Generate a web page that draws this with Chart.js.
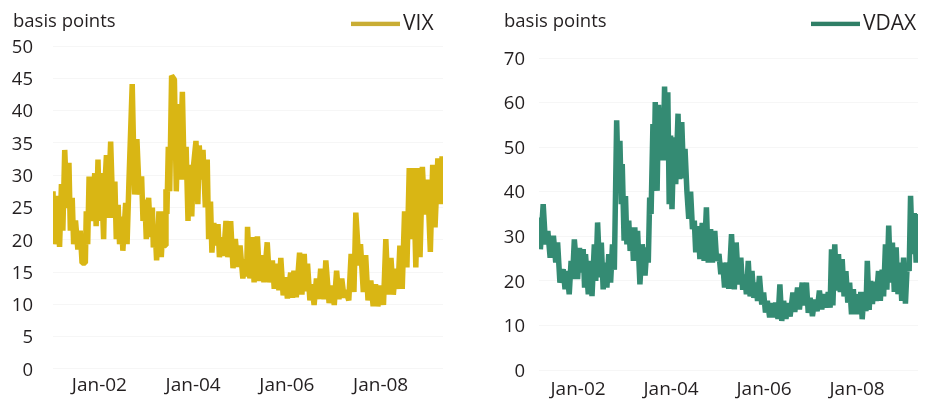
<!DOCTYPE html>
<html>
<head>
<meta charset="utf-8">
<script src="https://cdn.jsdelivr.net/npm/chart.js@4.4.1/dist/chart.umd.min.js"></script>
<style>
  body { margin: 0; background: #fff; }
  .panel { position: absolute; top: 0; height: 400px; }
</style>
</head>
<body>
<div class="panel" style="left:0;width:470px"><canvas id="vixChart" width="470" height="400"></canvas></div>
<div class="panel" style="left:470px;width:455px"><canvas id="vdaxChart" width="455" height="400"></canvas></div>
<script>
// x values are decimal years
const vixDates = [
  2001.01, 2001.04, 2001.09, 2001.15, 2001.19, 2001.22, 2001.26, 2001.31, 2001.35, 2001.38,
  2001.42, 2001.45, 2001.49, 2001.54, 2001.59, 2001.63, 2001.70, 2001.72, 2001.75, 2001.78,
  2001.85, 2001.90, 2001.93, 2001.97, 2002.00, 2002.04, 2002.09, 2002.11, 2002.15, 2002.18,
  2002.24, 2002.29, 2002.33, 2002.36, 2002.40, 2002.43, 2002.47, 2002.50, 2002.56, 2002.59,
  2002.63, 2002.70, 2002.75, 2002.80, 2002.85, 2002.90, 2002.93, 2002.97, 2003.00, 2003.05,
  2003.09, 2003.13, 2003.15, 2003.19, 2003.22, 2003.27, 2003.32, 2003.37, 2003.40, 2003.42,
  2003.44, 2003.47, 2003.50, 2003.54, 2003.60, 2003.64, 2003.69, 2003.71, 2003.77, 2003.81,
  2003.85, 2003.89, 2003.92, 2003.97, 2004.00, 2004.06, 2004.10, 2004.13, 2004.17, 2004.21,
  2004.26, 2004.30, 2004.33, 2004.37, 2004.40, 2004.44, 2004.48, 2004.53, 2004.56, 2004.60,
  2004.65, 2004.70, 2004.74, 2004.80, 2004.85, 2004.90, 2004.95, 2005.00, 2005.06, 2005.11,
  2005.14, 2005.16, 2005.21, 2005.26, 2005.30, 2005.37, 2005.42, 2005.48, 2005.51, 2005.58,
  2005.63, 2005.69, 2005.73, 2005.76, 2005.83, 2005.87, 2005.92, 2005.97, 2006.01, 2006.08,
  2006.12, 2006.15, 2006.20, 2006.27, 2006.32, 2006.37, 2006.40, 2006.44, 2006.49, 2006.53,
  2006.58, 2006.63, 2006.67, 2006.72, 2006.79, 2006.83, 2006.90, 2006.96, 2007.01, 2007.06,
  2007.11, 2007.17, 2007.22, 2007.25, 2007.32, 2007.37, 2007.43, 2007.47, 2007.54, 2007.57,
  2007.63, 2007.68, 2007.73, 2007.79, 2007.84, 2007.89, 2007.94, 2008.00, 2008.06, 2008.11,
  2008.16, 2008.22, 2008.27, 2008.32, 2008.37, 2008.41, 2008.46, 2008.51, 2008.56, 2008.61,
  2008.64, 2008.70, 2008.75, 2008.80, 2008.84, 2008.89, 2008.94, 2009.00, 2009.06, 2009.11,
  2009.16, 2009.22, 2009.27, 2009.31, 2009.33
];
const vixValues = [
  27.5, 19.3, 26.8, 18.9, 28.6, 21.4, 33.9, 24.9, 31.9, 21.4,
  26.5, 19.3, 23.0, 18.5, 21.4, 16.4, 16.4, 24.4, 19.3, 29.8,
  22.9, 30.3, 22.1, 32.4, 22.9, 30.3, 20.1, 27.5, 33.1, 23.4,
  35.2, 23.4, 29.0, 20.1, 25.4, 19.3, 23.6, 18.3, 25.7, 19.3,
  29.0, 44.1, 27.0, 35.6, 27.0, 29.8, 22.9, 26.2, 20.1, 26.5,
  20.4, 25.0, 18.8, 21.5, 16.8, 24.4, 17.3, 24.4, 19.1, 27.8,
  24.0, 34.4, 27.5, 45.4, 44.8, 27.5, 41.0, 29.3, 42.9, 29.3,
  34.4, 22.9, 31.6, 23.6, 30.9, 35.3, 25.5, 34.6, 29.3, 33.9,
  25.0, 32.4, 20.1, 25.9, 18.0, 22.6, 19.1, 22.4, 17.3, 20.4,
  17.5, 22.9, 17.3, 22.9, 15.6, 20.1, 15.8, 19.1, 14.0, 17.0,
  14.3, 22.0, 14.0, 20.4, 13.4, 20.5, 13.6, 17.6, 13.4, 19.6,
  13.4, 16.8, 12.4, 16.3, 12.2, 17.2, 11.4, 14.2, 10.9, 14.9,
  11.0, 15.2, 11.1, 18.0, 11.5, 17.8, 12.0, 16.3, 10.6, 13.1,
  9.9, 14.0, 10.8, 15.5, 10.8, 16.8, 10.2, 12.9, 9.9, 15.2,
  10.8, 14.0, 11.0, 12.2, 10.6, 17.8, 11.9, 24.2, 16.0, 19.3,
  11.9, 17.6, 10.6, 13.7, 9.7, 13.1, 9.7, 12.9, 9.9, 20.1,
  11.5, 17.2, 11.5, 15.5, 12.4, 19.1, 12.4, 24.4, 15.7, 31.1,
  20.1, 31.1, 15.7, 31.1, 17.3, 31.3, 23.9, 29.3, 18.1, 31.6,
  21.9, 32.6, 25.5, 32.9, 25.5
];

const vdaxDates = [
  2001.16, 2001.19, 2001.25, 2001.30, 2001.35, 2001.40, 2001.47, 2001.52, 2001.56, 2001.61,
  2001.68, 2001.72, 2001.76, 2001.81, 2001.85, 2001.88, 2001.92, 2001.99, 2002.03, 2002.06,
  2002.11, 2002.14, 2002.16, 2002.22, 2002.26, 2002.30, 2002.35, 2002.38, 2002.42, 2002.47,
  2002.50, 2002.54, 2002.58, 2002.62, 2002.66, 2002.70, 2002.74, 2002.78, 2002.83, 2002.87,
  2002.90, 2002.93, 2002.95, 2002.99, 2003.02, 2003.05, 2003.09, 2003.12, 2003.16, 2003.19,
  2003.22, 2003.25, 2003.28, 2003.33, 2003.38, 2003.44, 2003.48, 2003.51, 2003.54, 2003.57,
  2003.61, 2003.63, 2003.66, 2003.70, 2003.73, 2003.77, 2003.80, 2003.83, 2003.86, 2003.90,
  2003.93, 2003.96, 2003.99, 2004.02, 2004.06, 2004.10, 2004.15, 2004.18, 2004.23, 2004.27,
  2004.30, 2004.34, 2004.38, 2004.42, 2004.46, 2004.50, 2004.53, 2004.58, 2004.62, 2004.67,
  2004.71, 2004.76, 2004.80, 2004.85, 2004.89, 2004.94, 2004.98, 2005.03, 2005.07, 2005.11,
  2005.15, 2005.20, 2005.24, 2005.30, 2005.36, 2005.40, 2005.45, 2005.50, 2005.54, 2005.58,
  2005.62, 2005.66, 2005.70, 2005.74, 2005.78, 2005.82, 2005.86, 2005.90, 2005.95, 2005.99,
  2006.03, 2006.07, 2006.12, 2006.16, 2006.21, 2006.25, 2006.30, 2006.34, 2006.38, 2006.42,
  2006.47, 2006.52, 2006.56, 2006.62, 2006.66, 2006.72, 2006.76, 2006.82, 2006.86, 2006.91,
  2006.95, 2006.99, 2007.04, 2007.09, 2007.14, 2007.19, 2007.24, 2007.29, 2007.34, 2007.38,
  2007.42, 2007.45, 2007.48, 2007.52, 2007.56, 2007.60, 2007.64, 2007.68, 2007.72, 2007.76,
  2007.80, 2007.84, 2007.88, 2007.92, 2007.96, 2008.00, 2008.04, 2008.08, 2008.11, 2008.15,
  2008.19, 2008.22, 2008.26, 2008.29, 2008.33, 2008.37, 2008.41, 2008.46, 2008.50, 2008.54,
  2008.57, 2008.61, 2008.64, 2008.68, 2008.72, 2008.76, 2008.80, 2008.84, 2008.88, 2008.92,
  2008.96, 2009.00, 2009.04, 2009.08, 2009.12, 2009.15, 2009.19, 2009.23, 2009.27, 2009.30,
  2009.31
];
const vdaxValues = [
  34.2, 27.1, 37.2, 28.2, 31.2, 25.2, 30.1, 24.1, 28.6, 19.6,
  22.6, 18.1, 22.2, 17.0, 24.5, 20.4, 29.3, 20.4, 27.4, 21.9,
  27.1, 18.5, 26.0, 17.0, 24.5, 16.6, 28.2, 20.0, 33.1, 20.8,
  28.6, 18.1, 24.1, 18.5, 26.0, 19.6, 28.2, 22.5, 56.0, 40.0,
  51.4, 37.2, 46.2, 29.0, 39.0, 28.2, 33.5, 26.7, 32.0, 24.5,
  32.0, 24.5, 31.2, 19.2, 28.2, 21.2, 27.5, 24.1, 38.7, 35.0,
  55.2, 40.2, 60.1, 40.2, 59.5, 47.0, 55.2, 47.0, 63.6, 47.3,
  62.3, 37.2, 52.6, 36.1, 52.2, 41.7, 57.5, 42.8, 55.6, 43.0,
  49.6, 40.2, 33.9, 40.0, 31.6, 33.5, 26.4, 32.3, 24.9, 33.0,
  24.5, 36.5, 24.1, 31.6, 24.1, 31.2, 24.5, 26.0, 21.5, 24.1,
  18.5, 24.1, 18.2, 30.5, 18.1, 28.6, 19.2, 25.2, 18.0, 21.4,
  17.0, 24.5, 16.5, 22.2, 16.2, 19.6, 15.5, 21.1, 14.7, 17.4,
  12.9, 15.5, 11.8, 15.0, 11.8, 15.1, 11.5, 19.2, 11.0, 15.5,
  11.5, 15.0, 12.0, 17.4, 13.0, 18.5, 13.6, 19.6, 14.5, 19.6,
  12.8, 16.2, 12.1, 15.8, 13.2, 17.8, 13.6, 17.0, 14.0, 17.5,
  14.0, 27.1, 14.5, 28.2, 17.8, 26.0, 17.5, 24.9, 16.5, 22.2,
  15.1, 19.6, 12.5, 18.1, 12.5, 17.0, 12.5, 17.5, 11.4, 17.5,
  13.2, 24.5, 13.5, 20.0, 14.8, 19.8, 15.5, 22.2, 15.5, 22.5,
  16.5, 28.2, 18.0, 32.4, 19.6, 28.6, 17.5, 27.5, 17.0, 24.1,
  15.5, 25.2, 14.9, 24.0, 22.2, 39.1, 26.0, 35.2, 24.1, 35.0,
  24.5
];

const tickYears = [2002, 2004, 2006, 2008];
const tickLabels = ['Jan-02', 'Jan-04', 'Jan-06', 'Jan-08'];
const yTitle = 'basis points';

const FONT = '"Open Sans", sans-serif';
const INK = '#231f20';

// "basis points" header and the small line legend sit on one row
const headerPlugin = {
    id: 'panelHeader',
    afterDraw(chart, args, opts) {
        const ctx = chart.ctx;
        ctx.save();
        ctx.textBaseline = 'alphabetic';
        ctx.textAlign = 'left';
        ctx.fillStyle = INK;
        ctx.font = '18.5px ' + FONT;
        ctx.fillText(yTitle, opts.titleX, 26.5);
        ctx.fillStyle = opts.swatch;
        ctx.fillRect(opts.legendX, 21.7, 49, 4.4);
        ctx.fillStyle = INK;
        ctx.font = '21px ' + FONT;
        ctx.fillText(opts.label, opts.legendX + 52, 30.3);
        ctx.restore();
    }
};

function makeChart(id, p) {
    const ctx = document.getElementById(id).getContext('2d');
    return new Chart(ctx, {
        type: 'line',
        data: {
            datasets: [{
                label: p.label,
                data: p.dates.map((d, i) => ({ x: d, y: p.values[i] })),
                borderColor: p.color,
                borderWidth: 5.5,
                borderJoinStyle: 'bevel',
                pointRadius: 0,
                tension: 0,
                fill: false
            }]
        },
        options: {
            responsive: false,
            animation: false,
            devicePixelRatio: 1,
            layout: { padding: { top: p.top, right: p.right, left: 0, bottom: 0 } },
            plugins: {
                legend: { display: false },
                tooltip: { enabled: false },
                panelHeader: { titleX: p.titleX, legendX: p.legendX, swatch: p.swatch, label: p.label }
            },
            scales: {
                x: {
                    type: 'linear',
                    min: p.dates[0],
                    max: p.dates[p.dates.length - 1],
                    afterBuildTicks: axis => { axis.ticks = tickYears.map(v => ({ value: v })); },
                    afterFit: s => { s.height = p.xHeight; },
                    grid: { display: false, drawTicks: false },
                    border: { display: false },
                    ticks: {
                        autoSkip: false,
                        maxRotation: 0,
                        padding: p.xPad,
                        color: INK,
                        font: { family: FONT, size: 19 },
                        callback: v => tickLabels[tickYears.indexOf(v)]
                    }
                },
                y: {
                    min: 0,
                    max: p.yMax,
                    afterFit: s => { s.width = p.yWidth; },
                    grid: { color: 'rgba(0,0,0,0.035)', drawTicks: false },
                    border: { display: false },
                    ticks: {
                        stepSize: p.yStep,
                        padding: p.yPad,
                        labelOffset: 1.5,
                        color: INK,
                        font: { family: FONT, size: 18.5 }
                    }
                }
            }
        },
        plugins: [headerPlugin]
    });
}

makeChart('vixChart', {
    label: 'VIX', dates: vixDates, values: vixValues,
    color: '#d9b614', swatch: '#c9ad34',
    yMax: 50, yStep: 5, top: 46, right: 27, yWidth: 53, yPad: 20,
    xHeight: 28, xPad: 5, titleX: 13, legendX: 351
});

makeChart('vdaxChart', {
    label: 'VDAX', dates: vdaxDates, values: vdaxValues,
    color: '#348b73', swatch: '#2f7f66',
    yMax: 70, yStep: 10, top: 58, right: 7, yWidth: 69, yPad: 14,
    xHeight: 30, xPad: 8, titleX: 34, legendX: 341
});
</script>
</body>
</html>
